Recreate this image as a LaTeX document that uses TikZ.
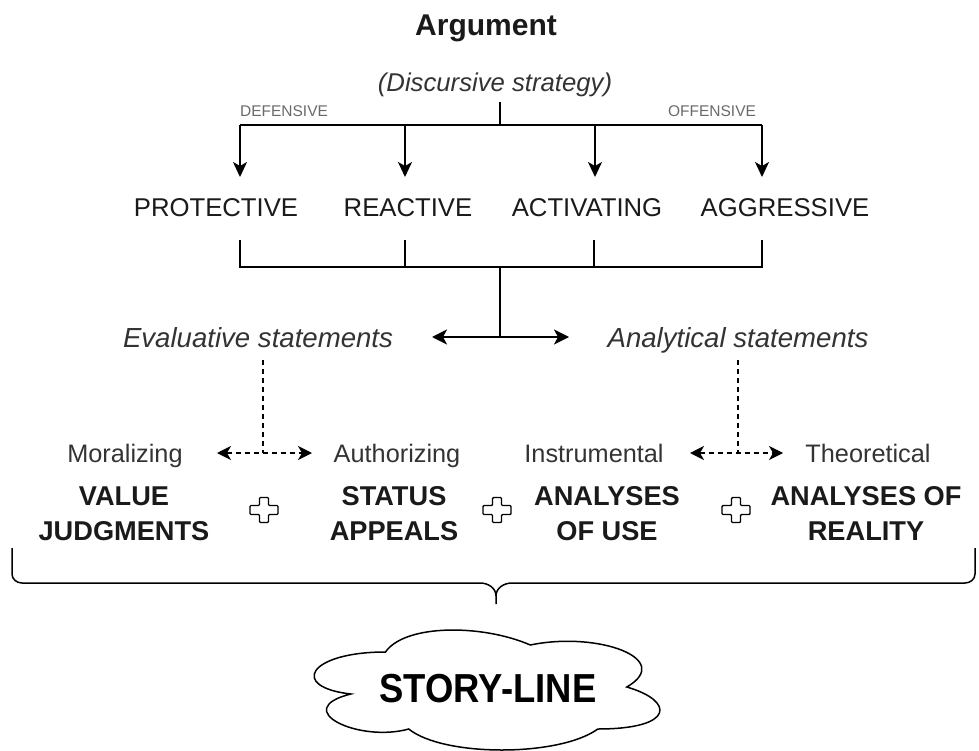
\documentclass[tikz,border=0pt]{standalone}
\usepackage{fontspec}
\usepackage{graphicx}
\setmainfont{Liberation Sans}
\usetikzlibrary{arrows.meta}
\definecolor{txt}{HTML}{1A1A1A}
\definecolor{soft}{HTML}{333333}
\definecolor{faint}{HTML}{6A6A6A}
\begin{document}
\begin{tikzpicture}[x=1pt,y=-1pt,
  lbl/.style={inner sep=0pt, anchor=base},
  title/.style={lbl, text=txt, font=\fontsize{30}{34}\selectfont\bfseries},
  note/.style={lbl, text=soft, font=\fontsize{25.7}{30}\selectfont\itshape},
  tinylbl/.style={lbl, text=faint, font=\fontsize{15.5}{18}\selectfont},
  cat/.style={lbl, text=txt, font=\fontsize{25.7}{30}\selectfont},
  stmt/.style={lbl, text=soft, font=\fontsize{27.6}{32}\selectfont\itshape},
  sublbl/.style={lbl, text=soft, font=\fontsize{25.3}{30}\selectfont},
  big/.style={lbl, text=txt, align=center, font=\fontsize{27.2}{35}\selectfont\bfseries},
  story/.style={lbl, text=black, font=\fontsize{40.5}{44}\selectfont\bfseries},
  line/.style={line width=1.8pt, draw=black},
  arr/.style={line, -{Stealth[length=15pt,width=14pt,inset=4pt]}},
  darr/.style={line, {Stealth[length=15pt,width=15pt,inset=4pt]}-{Stealth[length=15pt,width=15pt,inset=4pt]}},
  dashline/.style={line width=1.5pt, draw=black, dash pattern=on 5pt off 4pt},
  ddarr/.style={dashline, {Stealth[length=14pt,width=14pt,inset=4pt]}-{Stealth[length=14pt,width=14pt,inset=4pt]}},
  crossmark/.pic={\draw[line width=1.4pt, fill=white, rounded corners=1pt]
     (-4.5,-12.5) -- (4.5,-12.5) -- (4.5,-4.5) -- (14,-4.5) -- (14,4.5) -- (4.5,4.5)
     -- (4.5,12.5) -- (-4.5,12.5) -- (-4.5,4.5) -- (-14,4.5) -- (-14,-4.5) -- (-4.5,-4.5) -- cycle;}
]
\useasboundingbox (0,0) rectangle (979,751);

% titles
\node[title] (arg) at (486,36) {Argument};
\node[note] (disc) at (495,92) {(Discursive strategy)};
\node[tinylbl] (def) at (284,117) {DEFENSIVE};
\node[tinylbl] (off) at (712,117) {OFFENSIVE};

% categories
\node[cat] (prot) at (216,217) {PROTECTIVE};
\node[cat] (reac) at (408,217) {REACTIVE};
\node[cat] (act) at (587,217) {ACTIVATING};
\node[cat] (agg) at (785,217) {AGGRESSIVE};

% statements
\node[stmt] (eval) at (258,347) {Evaluative statements};
\node[stmt] (anal) at (738,347) {Analytical statements};

% sub labels
\node[sublbl] (mor) at (125,462) {Moralizing};
\node[sublbl] (auth) at (397,462) {Authorizing};
\node[sublbl] (instr) at (594,462) {Instrumental};
\node[sublbl] (theo) at (868,462) {Theoretical};

% big labels (anchor base = baseline of last line)
\node[big] (val) at (124,540) {VALUE\\JUDGMENTS};
\node[big] (stat) at (394,540) {STATUS\\APPEALS};
\node[big] (use) at (607,540) {ANALYSES\\OF USE};
\node[big] (real) at (866,540) {ANALYSES OF\\REALITY};

% coordinates
\coordinate (t0) at (500,102);
\coordinate (t1) at (500,125);
\coordinate (h1) at (240,125);
\coordinate (h2) at (405,125);
\coordinate (h3) at (595,125);
\coordinate (h4) at (762,125);
\coordinate (a1) at (240,177);
\coordinate (a2) at (405,177);
\coordinate (a3) at (595,177);
\coordinate (a4) at (762,177);
\coordinate (u1) at (240,240);
\coordinate (u2) at (405,240);
\coordinate (u3) at (594,240);
\coordinate (u4) at (762,240);
\coordinate (v1) at (240,267);
\coordinate (v2) at (405,267);
\coordinate (v3) at (594,267);
\coordinate (v4) at (762,267);
\coordinate (vm) at (500,267);
\coordinate (sm) at (500,337);
\coordinate (sl) at (432,337);
\coordinate (sr) at (569,337);
\coordinate (el) at (263,360);
\coordinate (ej) at (263,453);
\coordinate (ea) at (217,453);
\coordinate (eb) at (312,453);
\coordinate (al) at (738,360);
\coordinate (aj) at (738,453);
\coordinate (aa) at (690,453);
\coordinate (ab) at (783,453);

% top tree
\draw[line] (t0) -- (t1);
\draw[line] (h1) -- (h4);
\draw[arr] (h1) -- (a1);
\draw[arr] (h2) -- (a2);
\draw[arr] (h3) -- (a3);
\draw[arr] (h4) -- (a4);

% bottom bracket
\draw[line] (u1) -- (v1) -- (v4) -- (u4);
\draw[line] (u2) -- (v2);
\draw[line] (u3) -- (v3);
\draw[line] (vm) -- (sm);
\draw[darr] (sl) -- (sr);

% dashed
\draw[dashline] (el) -- (ej);
\draw[ddarr] (ea) -- (eb);
\draw[dashline] (al) -- (aj);
\draw[ddarr] (aa) -- (ab);

% pluses
\pic (p1) at (264,510) {crossmark};
\pic (p2) at (497,510) {crossmark};
\pic (p3) at (736,510) {crossmark};

% brace
\coordinate (bl) at (12,548);
\coordinate (br) at (975,548);
\coordinate (bt) at (496,604);
\draw[line width=1.5pt] (bl) -- (12,574) to[out=-90,in=180] (22,583) -- (480,583)
   to[out=0,in=90] (496,596) -- (bt);
\draw[line width=1.5pt] (br) -- (975,574) to[out=-90,in=0] (965,583) -- (512,583)
   to[out=180,in=90] (496,596);

% cloud
\draw[line width=1.5pt, fill=white] (385.5,652)
  .. controls (308.3,652) and (289,687) .. (350.8,694)
  .. controls (289,709.4) and (358.5,743) .. (408.7,729)
  .. controls (443.4,757) and (559.2,757) .. (597.8,729)
  .. controls (675,729) and (675,701) .. (626.8,687)
  .. controls (675,659) and (597.8,631) .. (530.3,645)
  .. controls (482,624) and (404.8,624) .. (385.5,652) -- cycle;
\node[story] (sl2) at (488,702) {\scalebox{0.9}[1]{STORY-LINE}};
\end{tikzpicture}
\end{document}
